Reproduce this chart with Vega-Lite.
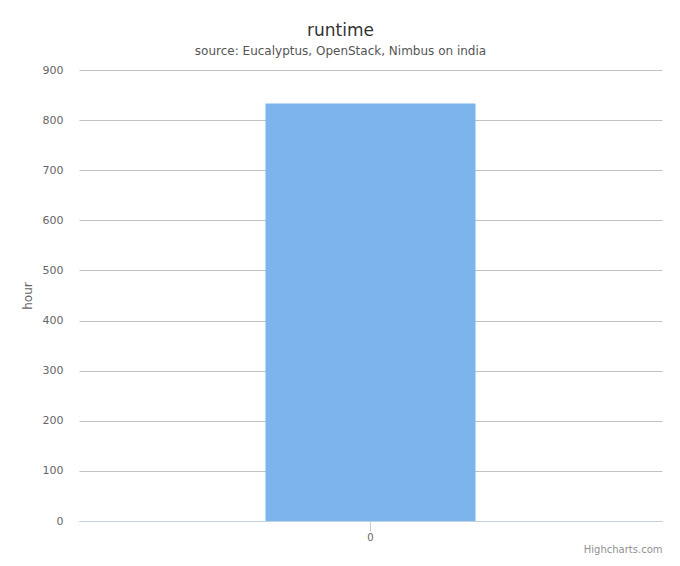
{
  "$schema": "https://vega.github.io/schema/vega-lite/v6.json",
  "autosize": {"type": "none"},
  "width": 583,
  "height": 451,
  "padding": {"left": 79, "top": 70, "right": 18, "bottom": 45},
  "background": "#ffffff",
  "config": {
    "font": "DejaVu Sans",
    "view": {"stroke": null}
  },
  "title": {
    "text": "runtime",
    "subtitle": "source: Eucalyptus, OpenStack, Nimbus on india",
    "anchor": "middle",
    "frame": "group",
    "dx": -30,
    "offset": 6,
    "fontSize": 17,
    "fontWeight": "normal",
    "color": "#333333",
    "subtitleFontSize": 12,
    "subtitleColor": "#555555",
    "subtitlePadding": 6
  },
  "data": {"values": [{"category": "0", "hours": 833}]},
  "mark": {"type": "bar", "color": "#7cb5ec"},
  "encoding": {
    "x": {
      "field": "category",
      "type": "nominal",
      "scale": {"paddingInner": 0, "paddingOuter": 0.888},
      "axis": {
        "title": "Highcharts.com",
        "titleAnchor": "end",
        "titleAlign": "right",
        "titleFontSize": 10,
        "titleFontWeight": "normal",
        "titleColor": "#909090",
        "titlePadding": 2,
        "labelAngle": 0,
        "labelFontSize": 10,
        "labelColor": "#666666",
        "labelPadding": 1,
        "domainColor": "#C0D0E0",
        "tickColor": "#C0D0E0",
        "tickSize": 10,
        "grid": false
      }
    },
    "y": {
      "field": "hours",
      "type": "quantitative",
      "scale": {"domain": [0, 900], "nice": false},
      "axis": {
        "title": "hour",
        "titleFontSize": 12,
        "titleFontWeight": "normal",
        "titleColor": "#666666",
        "titlePadding": 8,
        "values": [0, 100, 200, 300, 400, 500, 600, 700, 800, 900],
        "labelFontSize": 11,
        "labelColor": "#666666",
        "labelPadding": 16,
        "ticks": false,
        "domain": false,
        "grid": true,
        "gridColor": "#C0C0C0"
      }
    }
  }
}
